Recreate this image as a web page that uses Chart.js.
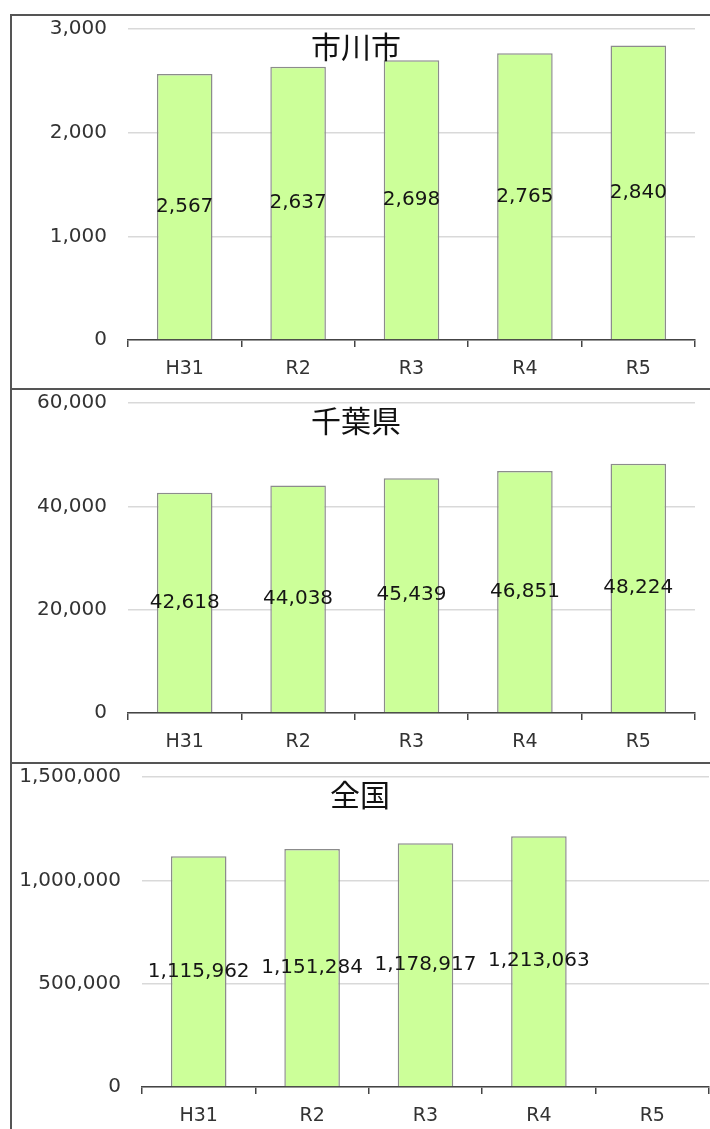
<!DOCTYPE html>
<html>
<head>
<meta charset="utf-8">
<script src="https://cdn.jsdelivr.net/npm/chart.js@4.4.1/dist/chart.umd.min.js"></script>
<style>
  body { margin: 0; background: #fff; width: 710px; height: 1129px; overflow: hidden; position: relative; }
  .panel { position: absolute; left: 10px; width: 700px; }
  .line { position: absolute; background: #555; }
</style>
</head>
<body>
<div class="line" style="left:10px;top:14px;width:700px;height:1.5px"></div>
<div class="line" style="left:10px;top:388px;width:700px;height:1.5px"></div>
<div class="line" style="left:10px;top:762px;width:700px;height:1.5px"></div>
<div class="line" style="left:10px;top:14px;width:1.5px;height:1115px"></div>

<div class="panel" style="top:14px;height:374px"><canvas id="c1" width="700" height="374"></canvas></div>
<div class="panel" style="top:388px;height:374px"><canvas id="c2" width="700" height="374"></canvas></div>
<div class="panel" style="top:762px;height:367px"><canvas id="c3" width="700" height="367"></canvas></div>

<script>
const years = ['H31', 'R2', 'R3', 'R4', 'R5'];

const ichikawa = [2567, 2637, 2698, 2765, 2840];
const chiba = [42618, 44038, 45439, 46851, 48224];
const zenkoku = [1115962, 1151284, 1178917, 1213063, null];   // R5はまだ無し

const titles = ['市川市', '千葉県', '全国'];
const yMax = [3000, 60000, 1500000];
const ySteps = [1000, 20000, 500000];

const NUM_FONT = '"DejaVu Sans", Verdana, sans-serif';

// グラフ内のタイトル（プロット領域に重ねる）
const innerTitle = {
    id: 'innerTitle',
    afterDraw(chart, args, opts) {
        const ctx = chart.ctx;
        ctx.save();
        ctx.font = '30px "Noto Sans CJK JP", sans-serif';
        ctx.fillStyle = '#111';
        ctx.textAlign = 'center';
        ctx.textBaseline = 'middle';
        ctx.fillText(opts.text, opts.x, opts.y);
        ctx.restore();
    }
};

// 棒の中央に数値
const barValues = {
    id: 'barValues',
    afterDatasetsDraw(chart) {
        const ctx = chart.ctx;
        const data = chart.data.datasets[0].data;
        ctx.save();
        ctx.font = '20px ' + NUM_FONT;
        ctx.fillStyle = '#151515';
        ctx.textAlign = 'center';
        ctx.textBaseline = 'middle';
        chart.getDatasetMeta(0).data.forEach((bar, i) => {
            if (data[i] == null) return;
            ctx.fillText(data[i].toLocaleString('en-US'), bar.x, (bar.y + bar.base) / 2);
        });
        ctx.restore();
    }
};

function makeChart(id, values, idx, yWidth, xHeight, rightPad, titleX) {
    const ctx = document.getElementById(id).getContext('2d');
    return new Chart(ctx, {
        type: 'bar',
        data: {
            labels: years,
            datasets: [{
                data: values,
                backgroundColor: '#ccff99',
                borderColor: '#8c8c8c',
                borderWidth: 1.5,
                categoryPercentage: 1,
                barPercentage: 0.49
            }]
        },
        plugins: [innerTitle, barValues],
        options: {
            responsive: false,
            animation: false,
            layout: { padding: { top: 0, right: rightPad, left: 0, bottom: 0 } },
            plugins: {
                legend: { display: false },
                tooltip: { enabled: false },
                innerTitle: { text: titles[idx], x: titleX, y: 33 }
            },
            scales: {
                x: {
                    grid: { offset: true, drawOnChartArea: false, drawTicks: true, tickLength: 7, color: '#444', lineWidth: 1.5 },
                    border: { display: true, color: '#444', width: 1.5 },
                    ticks: { color: '#333', font: { family: NUM_FONT, size: 19 }, padding: 11 },
                    afterFit(scale) { scale.height = xHeight; }
                },
                y: {
                    min: 0,
                    max: yMax[idx],
                    grid: { color: '#d9d9d9', lineWidth: 1.5, drawTicks: true, tickLength: 18, tickColor: 'rgba(0,0,0,0)' },
                    border: { display: false },
                    ticks: {
                        stepSize: ySteps[idx],
                        color: '#333',
                        padding: 3,
                        font: { family: NUM_FONT, size: 20 },
                        callback: v => v.toLocaleString('en-US')
                    },
                    afterFit(scale) { scale.width = yWidth; }
                }
            }
        }
    });
}

makeChart('c1', ichikawa, 0, 118, 48, 15, 346);
makeChart('c2', chiba, 1, 118, 49, 15, 346);
makeChart('c3', zenkoku, 2, 132, 42, 1, 350);
</script>
</body>
</html>
